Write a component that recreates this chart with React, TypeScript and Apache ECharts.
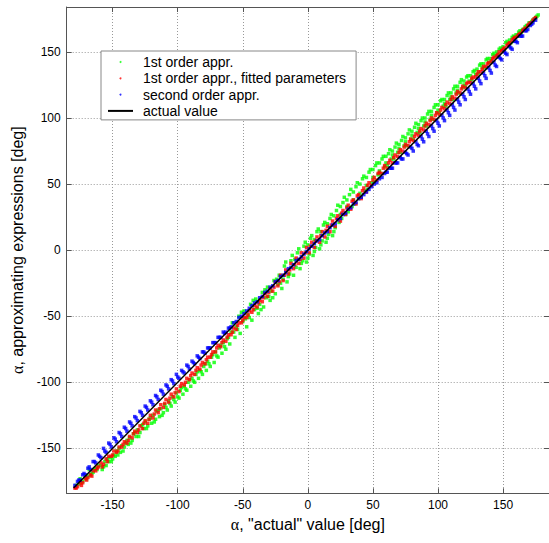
import { useEffect, useRef } from 'react';
import * as echarts from 'echarts';

// ---- data (degrees) ----
const seriesNames = [
  '1st order appr.',
  '1st order appr., fitted parameters',
  'second order appr.',
  'actual value',
];

const firstOrder: number[][] = [
  [-178,-178],[-176,-177],[-175,-173],[-174,-176],[-173,-175],[-171,-172],[-170,-173],[-169,-171],[-168,-166],[-167,-170],[-166,-169],[-165,-168],[-164,-166],[-163,-165],[-162,-166],[-161,-163],
  [-159,-163],[-158,-166],[-157,-164],[-156,-160],[-155,-163],[-154,-158],[-153,-160],[-152,-157],[-151,-160],[-150,-158],[-149,-155],[-148,-156],[-147,-152],[-146,-155],[-145,-150],[-144,-153],[-143,-148],[-142,-152],[-141,-149],[-140,-146],[-139,-144],[-138,-147],[-137,-142],[-136,-146],[-135,-144],[-134,-139],[-133,-138],[-132,-141],[-131,-136],[-130,-141],[-129,-138],[-128,-133],[-127,-132],[-126,-135],[-125,-130],[-124,-135],[-123,-133],[-122,-128],[-121,-127],
  [-120,-131],[-119,-125],[-118,-130],[-117,-128],[-116,-122],[-115,-121],[-114,-126],[-113,-120],[-112,-125],[-111,-123],[-110,-117],[-109,-119],[-108,-121],[-107,-114],[-106,-116],[-105,-118],[-104,-111],[-103,-113],[-102,-115],[-101,-108],[-100,-111],[-99,-112],[-98,-106],[-97,-104],[-96,-109],[-95,-103],[-94,-105],[-93,-106],[-92,-100],[-91,-98],[-90,-103],[-89,-97],[-88,-99],[-87,-100],[-86,-94],[-85,-92],[-84,-97],[-83,-91],[-82,-92],[-81,-94],[-80,-88],[-79,-86],[-78,-91],[-77,-84],[-76,-86],[-75,-88],[-74,-81],[-73,-79],[-72,-85],[-71,-77],[-70,-80],[-69,-81],[-68,-74],[-67,-72],[-66,-78],[-65,-70],[-64,-73],[-63,-75],[-62,-67],[-61,-66],
  [-60,-71],[-59,-62],[-58,-55],[-57,-62],[-56,-66],[-55,-58],[-54,-60],[-53,-50],[-52,-63],[-51,-47],[-50,-54],[-49,-46],[-48,-52],[-47,-58],[-46,-49],[-45,-51],[-44,-41],[-43,-53],[-42,-38],[-41,-45],[-40,-37],[-39,-44],[-38,-48],[-37,-41],[-36,-45],[-35,-32],[-34,-43],[-33,-30],[-32,-36],[-31,-28],[-30,-35],[-29,-38],[-28,-31],[-27,-36],[-26,-23],[-25,-33],[-24,-22],[-23,-26],[-22,-19],[-21,-25],
  [-20,-29],[-19,-22],[-18,-12],[-17,-9],[-16,-24],[-15,-20],[-14,-18],[-13,-8],[-12,-4],[-11,-19],[-10,-7],[-9,-13],[-8,-2],[-7,1],[-6,-14],[-5,-10],[-4,-8],[-3,3],[-2,6],[-1,-9],[0,4],[0,-6],[1,-3],[2,9],[3,11],[4,-4],[5,8],[5,-1],[6,2],[7,14],[8,16],[9,1],[10,14],[10,4],[11,7],[12,19],[13,21],[14,6],[15,20],[15,9],[16,12],[17,24],[18,27],[19,11],[20,26],[20,14],
  [21,17],[22,30],[23,34],[24,21],[25,33],[25,27],[26,24],[27,36],[28,40],[29,27],[30,38],[30,33],[31,29],[32,42],[33,46],[34,33],[35,44],[35,38],[36,35],[37,48],[38,51],[39,39],[40,50],[40,43],[41,40],[42,54],[43,56],[44,45],[45,55],[45,49],[46,46],[47,59],[48,61],[49,51],[50,61],[50,55],[51,52],[52,64],[53,66],[54,57],[55,66],[55,60],[56,58],[57,69],[58,71],[59,63],[60,71],[60,66],
  [61,64],[62,73],[63,76],[64,69],[65,75],[65,72],[66,69],[67,78],[68,81],[69,74],[70,80],[70,77],[71,74],[72,83],[73,86],[74,79],[75,85],[75,82],[76,79],[77,88],[78,91],[79,84],[80,90],[80,87],[81,84],[82,93],[83,96],[84,89],[85,95],[85,92],[86,89],[87,98],[88,100],[89,94],[90,100],[90,97],[91,94],[92,103],[93,105],[94,99],[95,105],[95,102],[96,99],[97,108],[98,110],[99,104],[100,110],[100,106],[101,104],[102,113],[103,114],[104,109],[105,114],[105,111],[106,109],[107,117],[108,119],[109,114],[110,119],[110,116],[111,114],[112,122],[113,124],[114,119],[115,124],[115,121],[116,119],[117,127],[118,129],
  [119,123],[120,128],[120,125],[121,124],[122,131],[123,132],[124,128],[125,132],[126,129],[127,135],[128,136],[129,133],[130,137],[131,134],[132,140],[133,141],[134,138],[135,141],[136,138],[137,144],[138,145],[139,142],[140,145],[141,143],[142,148],[143,149],[144,147],[145,150],[146,148],[147,152],[148,153],[149,151],[150,154],[151,152],[152,157],[153,158],[154,156],[155,159],[156,157],[157,161],[158,162],
  [159,161],[160,163],[161,162],[162,165],[163,166],[164,165],[165,167],[166,167],[167,169],[168,170],[169,170],[170,172],[171,172],[172,173],[173,174],[174,175],[175,176],[176,177],[177,178],
];

const firstOrderFitted: number[][] = [
  [-179,-180],[-178,-180],[-177,-179],[-175,-176],[-174,-178],[-173,-176],[-171,-173],[-170,-174],[-169,-172],[-167,-170],[-166,-171],[-165,-167],[-163,-167],[-162,-165],[-161,-164],[-159,-161],[-158,-164],[-157,-162],[-155,-158],[-154,-160],[-153,-156],[-151,-156],[-150,-155],[-149,-152],[-147,-153],[-146,-152],[-145,-149],[-143,-149],[-142,-147],[-141,-145],[-139,-146],[-138,-144],[-137,-141],[-135,-142],[-134,-139],[-133,-137],[-131,-138],[-130,-136],[-129,-133],[-127,-135],[-126,-131],[-125,-129],[-123,-131],[-122,-128],[-121,-125],[-119,-127],[-118,-124],[-117,-121],[-115,-123],[-114,-120],[-113,-117],[-111,-119],[-110,-116],[-109,-113],[-107,-115],[-106,-112],[-105,-109],[-103,-111],[-102,-108],[-101,-105],[-99,-107],[-98,-103],[-97,-101],[-95,-102],[-94,-100],[-93,-97],[-91,-98],[-90,-95],[-89,-93],[-87,-94],[-86,-91],[-85,-89],[-83,-90],[-82,-87],[-81,-85],[-79,-86],[-78,-83],[-77,-81],[-75,-81],[-74,-79],[-73,-77],[-71,-77],[-70,-74],[-69,-72],[-67,-73],[-66,-70],[-65,-68],[-63,-69],[-62,-66],[-61,-64],[-59,-64],[-58,-62],[-57,-59],[-55,-60],[-54,-57],[-53,-55],[-51,-55],[-50,-53],[-49,-51],[-47,-51],[-46,-49],[-45,-46],[-43,-47],[-42,-45],[-41,-42],[-39,-43],[-38,-40],[-37,-38],[-35,-39],[-34,-36],[-33,-33],[-31,-35],[-30,-32],[-29,-29],[-27,-31],[-26,-28],[-25,-24],[-23,-27],[-22,-24],[-21,-19],[-19,-23],[-18,-19],[-17,-15],[-15,-18],[-14,-15],[-13,-10],[-11,-14],[-10,-11],[-9,-6],[-7,-10],[-6,-7],[-5,-2],[-3,-6],[-2,-2],[-1,2],[1,-2],[2,3],[3,6],[5,2],[6,7],[7,10],[9,6],[10,11],[11,14],[13,10],[14,15],[15,18],[17,14],[18,19],[19,22],[21,18],[22,24],[23,26],[25,22],[26,28],[27,30],[29,27],[30,32],[31,34],[33,31],[34,37],[35,38],[37,35],[38,41],[39,42],[41,39],[42,45],[43,47],[45,44],[46,49],[47,51],[49,49],[50,53],[51,55],[53,53],[54,58],[55,59],[57,58],[58,62],[59,64],[61,62],[62,66],[63,68],[65,66],[66,70],[67,72],[69,71],[70,74],[71,76],[73,75],[74,78],[75,80],[77,79],[78,82],[79,84],[81,83],[82,86],[83,88],[85,87],[86,90],[87,92],[89,91],[90,94],[91,96],[93,95],[94,98],[95,100],[97,99],[98,102],[99,104],[101,103],[102,106],[103,108],[105,107],[106,110],[107,112],[109,111],[110,114],[111,116],[113,115],[114,118],[115,120],[117,119],[118,122],[119,124],[121,123],[122,126],[123,127],[125,127],[126,130],[127,131],[129,131],[130,133],[131,135],[133,135],[134,137],[135,139],[137,139],[138,141],[139,142],[141,143],[142,145],[143,146],[145,147],[146,148],[147,150],[149,151],[150,152],[151,153],[153,155],[154,156],[155,157],[157,159],[158,160],[159,161],[161,162],[162,163],[163,164],[165,166],[166,167],[167,168],[169,170],[170,171],[171,172],[173,174],[174,175],[175,176],
];

const secondOrder: number[][] = [
  [-179,-178],[-177,-175],[-176,-174],[-175,-174],[-173,-170],[-172,-169],[-171,-170],[-169,-165],[-168,-164],[-167,-166],[-165,-160],[-164,-160],[-163,-161],[-161,-155],[-160,-156],[-159,-157],[-157,-150],[-156,-152],[-155,-153],[-153,-146],[-152,-147],[-151,-149],[-149,-142],[-148,-143],[-147,-145],[-145,-138],[-144,-139],[-143,-141],[-141,-134],[-140,-135],[-139,-137],[-137,-130],[-136,-131],[-135,-133],[-133,-126],[-132,-127],[-131,-129],[-129,-122],[-128,-123],[-127,-125],[-125,-118],[-124,-119],[-123,-121],[-121,-114],[-120,-115],[-119,-117],[-117,-110],[-116,-111],[-115,-113],[-113,-106],[-112,-107],[-111,-109],[-109,-102],[-108,-103],[-107,-105],[-105,-98],[-104,-99],[-103,-101],[-101,-94],[-100,-96],[-99,-97],[-97,-91],[-96,-92],[-95,-93],[-93,-87],[-92,-88],[-91,-90],[-89,-84],[-88,-85],[-87,-86],[-85,-80],[-84,-81],[-83,-82],[-81,-77],[-80,-77],[-79,-78],[-77,-74],[-76,-74],[-75,-74],[-73,-70],[-72,-70],[-71,-70],[-69,-66],[-68,-66],[-67,-66],[-65,-62],[-64,-63],[-63,-62],[-61,-59],[-60,-59],[-59,-58],[-57,-55],[-55,-54],[-53,-51],[-51,-50],[-49,-48],[-47,-46],[-45,-44],[-43,-42],[-41,-40],[-39,-39],[-37,-36],[-35,-35],[-33,-32],[-31,-31],[-29,-28],[-27,-27],[-25,-24],[-23,-23],[-21,-20],[-19,-19],[-17,-17],[-15,-14],[-13,-13],[-11,-11],[-9,-8],[-7,-7],[-5,-5],[-3,-3],[-1,-1],[1,1],[3,3],[5,5],[7,7],[9,8],[11,11],[13,13],[15,14],[17,17],[19,19],[21,20],[23,23],[25,24],[27,27],[29,28],[31,31],[33,32],[35,35],[37,36],[39,39],[41,40],[43,42],[45,44],[47,46],[49,48],[51,50],[53,51],[55,54],[57,55],[59,58],[60,59],[61,59],[63,62],[64,62],[65,62],[67,66],[68,66],[69,66],[71,70],[72,69],[73,69],[75,74],[76,73],[77,72],[79,78],[80,77],[81,75],[83,82],[84,80],[85,79],[87,86],[88,84],[89,82],[91,90],[92,88],[93,86],[95,94],[96,92],[97,90],[99,98],[100,96],[101,94],[103,102],[104,100],[105,98],[107,106],[108,104],[109,102],[111,110],[112,108],[113,106],[115,114],[116,112],[117,110],[119,118],[120,116],[121,114],[123,122],[124,120],[125,118],[127,126],[128,124],[129,122],[131,130],[132,128],[133,126],[135,134],[136,132],[137,130],[139,138],[140,136],[141,134],[143,142],[144,140],[145,139],[147,146],[148,145],[149,144],[151,150],[152,149],[153,148],[155,154],[156,153],[157,152],[159,158],[160,158],[161,157],[163,162],[164,162],[165,162],[167,166],[168,166],[169,167],[171,170],[172,171],[173,172],[175,174],
];

const actualValue: number[][] = [[-180, -180], [176, 176]];

const xName = '{a|α}, "actual" value [deg]';
const yName = '{a|α}, approximating expressions [deg]';

export default function App() {
  const ref = useRef<HTMLDivElement>(null);
  useEffect(() => {
    if (!ref.current) return;
    const chart = echarts.init(ref.current, null, { renderer: 'svg' });
    const font = "'Liberation Sans', Arial, Helvetica, sans-serif";
    const axisColor = '#555';
    const gridLine = { show: true, lineStyle: { color: '#999', type: [1, 2], width: 1 } };
    const nameStyle = {
      fontSize: 16,
      color: '#000',
      fontFamily: font,
      rich: { a: { fontSize: 16, color: '#000', fontFamily: "'Liberation Serif', 'DejaVu Serif', serif" } },
    };
    const xMin = -185.3, xMax = 185.3, yMin = -184, yMax = 184;
    const tick = { show: true, inside: true, length: 5, lineStyle: { color: axisColor } };
    const line = { show: true, onZero: false, lineStyle: { color: axisColor, width: 1 } };
    const dot = (name: string, data: number[][], color: string) => ({
      name,
      type: 'scatter',
      data,
      symbol: 'rect',
      symbolSize: 3.5,
      itemStyle: { color },
      silent: true,
      emphasis: { disabled: true },
    });
    chart.setOption({
      animation: false,
      backgroundColor: '#fff',
      grid: { left: 66.7, right: -2.9, top: 7, bottom: 49.7, containLabel: false },
      legend: {
        left: 101,
        top: 51,
        orient: 'vertical',
        backgroundColor: '#fff',
        borderColor: '#888',
        borderWidth: 1,
        padding: [3, 10, 1, 7],
        itemWidth: 25,
        itemHeight: 2,
        itemGap: 0.3,
        selectedMode: false,
        textStyle: { fontSize: 14, color: '#000', fontFamily: font, lineHeight: 16, padding: [0, 0, 0, 5] },
        data: [
          { name: seriesNames[0], icon: 'circle' },
          { name: seriesNames[1], icon: 'circle' },
          { name: seriesNames[2], icon: 'circle' },
          { name: seriesNames[3], icon: 'rect' },
        ],
      },
      xAxis: [
        {
          type: 'value', position: 'bottom', min: xMin, max: xMax, splitNumber: 7,
          axisLine: line, axisTick: tick,
          axisLabel: { color: '#000', fontSize: 12, fontFamily: font, margin: 6, showMinLabel: false, showMaxLabel: false },
          splitLine: gridLine,
          name: xName, nameLocation: 'middle', nameGap: 22, nameTextStyle: nameStyle,
        },
        {
          type: 'value', position: 'top', min: xMin, max: xMax, splitNumber: 7,
          axisLine: line, axisTick: tick, axisLabel: { show: false }, splitLine: { show: false },
        },
      ],
      yAxis: [
        {
          type: 'value', position: 'left', min: yMin, max: yMax, splitNumber: 7,
          axisLine: line, axisTick: tick,
          axisLabel: { color: '#000', fontSize: 12, fontFamily: font, margin: 6, showMinLabel: false, showMaxLabel: false },
          splitLine: gridLine,
          name: yName, nameLocation: 'middle', nameGap: 35, nameRotate: 90, nameTextStyle: nameStyle,
        },
        {
          type: 'value', position: 'right', min: yMin, max: yMax, splitNumber: 7,
          axisLine: line, axisTick: tick, axisLabel: { show: false }, splitLine: { show: false },
        },
      ],
      series: [
        dot(seriesNames[0], firstOrder, '#00ff00'),
        dot(seriesNames[1], firstOrderFitted, '#ff0000'),
        dot(seriesNames[2], secondOrder, '#0000ff'),
        {
          name: seriesNames[3],
          type: 'line',
          data: actualValue,
          symbol: 'none',
          color: '#000',
          lineStyle: { color: '#000', width: 1.5 },
          silent: true,
          emphasis: { disabled: true },
        },
      ],
    });
    return () => chart.dispose();
  }, []);
  return (
    <div
      ref={ref}
      style={{ position: 'fixed', left: 0, top: 0, width: 549, height: 543, background: '#fff' }}
    />
  );
}
